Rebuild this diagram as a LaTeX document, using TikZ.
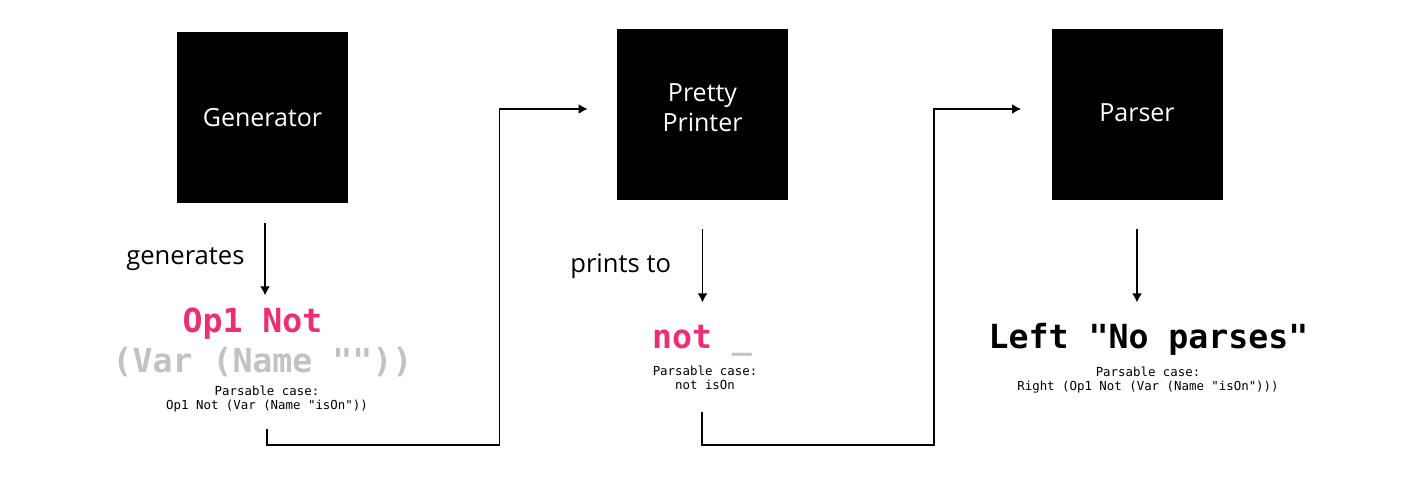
\documentclass[tikz,border=0pt]{standalone}
\usepackage{fontspec}
\setmainfont{Open Sans}
\setmonofont{DejaVu Sans Mono}
\usetikzlibrary{arrows.meta}
\definecolor{casepink}{HTML}{EC2F74}
\definecolor{casegrey}{HTML}{C2C2C2}
\tikzset{
  stage/.style={fill=black, text=white, minimum size=85.5pt, inner sep=0pt, align=center, font=\fontsize{12.5}{15}\selectfont},
  flow/.style={-{Latex[length=4.5pt,width=5pt]}, line width=0.8pt},
  flowlabel/.style={font=\fontsize{12.8}{15}\selectfont},
  bigcase/.style={align=center, inner sep=0pt, font=\ttfamily\bfseries\fontsize{16.6}{20}\selectfont},
  smallcase/.style={align=center, inner sep=0pt, font=\ttfamily\fontsize{6.2}{7.2}\selectfont},
}
\begin{document}
\begin{tikzpicture}[x=0.5pt,y=-0.5pt]
\useasboundingbox (0,0) rectangle (1402,487);
% stages
\node[stage] (gen) at (262.5,117.5) {Generator};
\node[stage, text depth=6.5pt] (pp) at (702.5,114.5) {Pretty\\Printer};
\node[stage, text depth=2pt] (parser) at (1137,114.5) {Parser};
% outputs
\node[bigcase] (genbig) at (262.5,342) {\textcolor{casepink}{Op1 Not}\hphantom{x}\\\textcolor{casegrey}{(Var (Name ""))}};
\node[bigcase] (ppbig) at (702,341) {\textcolor{casepink}{not} \textcolor{casegrey}{\_}};
\node[bigcase] (parserbig) at (1148.5,339) {Left "No parses"};
\node[smallcase] (genhint) at (267,399) {Parsable case:\\Op1 Not (Var (Name "isOn"))};
\node[smallcase] (pphint) at (705,378) {Parsable case:\\not isOn};
\node[smallcase] (parserhint) at (1148,380) {Parsable case:\\Right (Op1 Not (Var (Name "isOn")))};
% arrows down
\draw[flow] ([xshift=1.25pt,yshift=-10pt]gen.south) -- ([xshift=1.25pt,yshift=-46pt]gen.south) node[midway, left=6.5pt, flowlabel] {generates};
\draw[flow] ([yshift=-14.5pt]pp.south) -- ([yshift=-51pt]pp.south) node[midway, left=12pt, flowlabel] {prints to};
\draw[flow] ([yshift=-14.5pt]parser.south) -- ([yshift=-51pt]parser.south);
% connectors
\coordinate (routeline) at (0,445);
\coordinate (genout) at ([yshift=-8pt]genhint.south);
\coordinate (ppout) at ([xshift=-1.5pt,yshift=-11pt]pphint.south);
\coordinate (ppin) at ([xshift=-14.5pt,yshift=2.75pt]pp.west);
\coordinate (parserin) at ([xshift=-15pt,yshift=2.75pt]parser.west);
\draw[flow] (genout) |- ([xshift=-44pt]ppin |- routeline) |- (ppin);
\draw[flow] (ppout) |- ([xshift=-43.5pt]parserin |- routeline) |- (parserin);
\end{tikzpicture}
\end{document}
